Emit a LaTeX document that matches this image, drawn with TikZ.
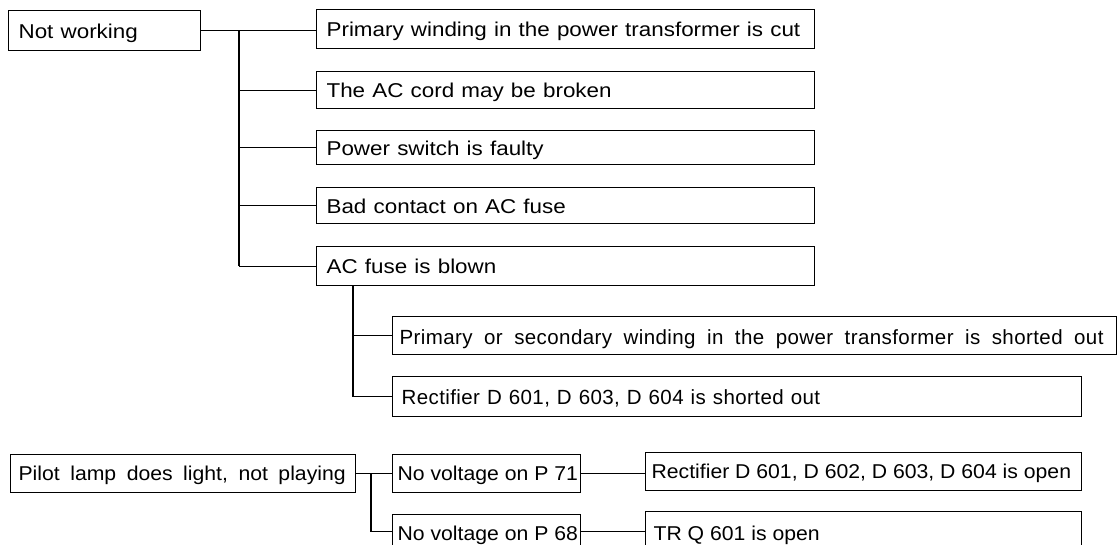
\documentclass[tikz,border=0pt]{standalone}
\usepackage{fontspec}
\setmainfont{Liberation Sans}
\newfontfamily\widefont[FakeStretch=1.12]{Liberation Sans}
\newfontfamily\normfont[FakeStretch=1.06]{Liberation Sans}
\newfontfamily\subfont[LetterSpace=2]{Liberation Sans}
\newcommand\wordgap[1]{\spaceskip=#1\relax}
\tikzset{
  box/.style={draw, anchor=north west, inner ysep=0pt, text depth=0pt},
  topbox/.style={box, font={\widefont\fontsize{20}{22}\selectfont\wordgap{7.2pt}}, text height=15.4pt},
  subbox/.style={box, font={\subfont\fontsize{20.5}{22}\selectfont}, text height=16pt},
  botbox/.style={box, font={\normfont\fontsize{20}{22}\selectfont}, text height=12.8pt},
}
\begin{document}
\begin{tikzpicture}[x=1pt, y=-1pt, line width=1.2pt]
\useasboundingbox (0,0) rectangle (1117,544);
\clip (0,0) rectangle (1117,544);
\fill[white] (0,0) rectangle (1117,544);

% first tree
\node[topbox, inner xsep=10pt, minimum height=40pt] (nw) at (8,10) {\makebox[172pt][l]{Not working}};
\node[topbox, inner xsep=10pt, minimum height=39pt] (b1) at (316,9) {\makebox[478pt][l]{Primary winding in the power transformer is cut}};
\node[topbox, inner xsep=10pt, minimum height=37pt] (b2) at (316,71) {\makebox[478pt][l]{The AC cord may be broken}};
\node[topbox, inner xsep=10pt, minimum height=34pt] (b3) at (316,130) {\makebox[478pt][l]{Power switch is faulty}};
\node[topbox, inner xsep=10pt, minimum height=36pt] (b4) at (316,187) {\makebox[478pt][l]{Bad contact on AC fuse}};
\node[topbox, inner xsep=10pt, minimum height=39pt] (b5) at (316,246) {\makebox[478pt][l]{AC fuse is blown}};

\coordinate (t0) at (239,0);
\draw (nw.east) -- (nw.east -| b1.west);
\draw (t0 |- nw.east) -- (t0 |- b5.west);
\draw (t0 |- b2.west) -- (b2.west);
\draw (t0 |- b3.west) -- (b3.west);
\draw (t0 |- b4.west) -- (b4.west);
\draw (t0 |- b5.west) -- (b5.west);

% subtree
\node[subbox, inner xsep=7pt, minimum height=38pt, text height=18.5pt] (sa) at (392,316) {\makebox[710pt][l]{\wordgap{11.5pt}Primary or secondary winding in the power transformer is shorted out}};
\node[subbox, inner xsep=9pt, minimum height=40pt, text height=15pt] (sb) at (392,376) {\makebox[671pt][l]{\wordgap{7pt}Rectifier D 601, D 603, D 604 is shorted out}};
\coordinate (s0) at (353,0);
\draw (b5.south -| s0) -- (s0 |- sb.west);
\draw (s0 |- sa.west) -- (sa.west);
\draw (s0 |- sb.west) -- (sb.west);

% second tree
\node[botbox, inner xsep=8pt, minimum height=38pt] (pl) at (10,454) {\makebox[329pt][l]{\wordgap{10.5pt}Pilot lamp does light, not playing}};
\node[botbox, inner xsep=5pt, minimum height=38pt] (p71) at (392,454) {\makebox[178pt][l]{No voltage on P 71}};
\node[botbox, inner xsep=5pt, minimum height=34pt, text height=18pt] (p68) at (392,514) {\makebox[178pt][l]{No voltage on P 68}};
\node[botbox, inner xsep=6pt, minimum height=38pt] (r2) at (645,452) {\makebox[424pt][l]{Rectifier D 601, D 602, D 603, D 604 is open}};
\node[botbox, inner xsep=8pt, minimum height=40pt, text height=18pt] (tr) at (645,511) {\makebox[420pt][l]{TR Q 601 is open}};

\coordinate (q0) at (371,0);
\draw (pl.east) -- (pl.east -| p71.west);
\draw (q0 |- pl.east) -- (q0 |- p68.west) -- (p68.west);
\draw (p71.east) -- (p71.east -| r2.west);
\draw (p68.east) -- (p68.east -| tr.west);
\end{tikzpicture}
\end{document}
